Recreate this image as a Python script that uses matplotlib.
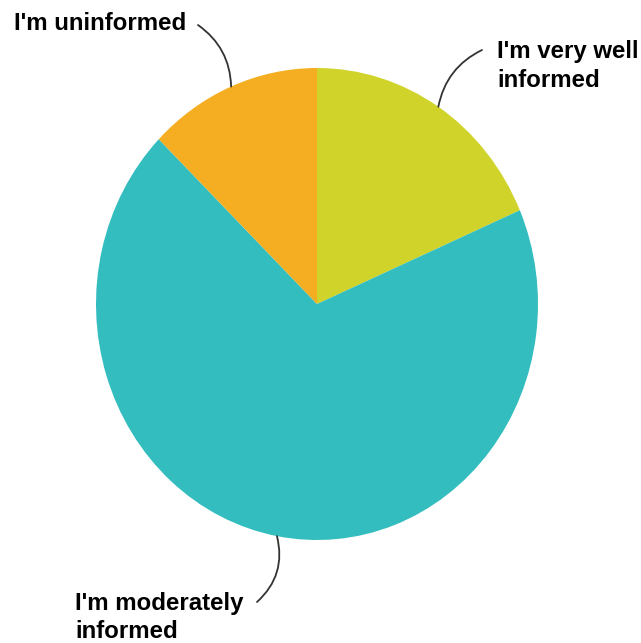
import numpy as np
import matplotlib
matplotlib.use("Agg")
import matplotlib.pyplot as plt

labels = ["I'm very well\ninformed", "I'm moderately\ninformed", "I'm uninformed"]
values = [18.5, 68.8, 12.7]
colors = ["#D0D42A", "#33BDBF", "#F5AE22"]

W, H = 641, 643
fig = plt.figure(figsize=(W / 100, H / 100), dpi=100)
# pie spans x 96..538, y 68..540 in pixels
cx, cy, rx, ry = 317, 304, 221, 236
ax = fig.add_axes([(cx - rx) / W, (H - (cy + ry)) / H, 2 * rx / W, 2 * ry / H])
wedges, _ = ax.pie(values, colors=colors, startangle=90, counterclock=False,
                   wedgeprops=dict(linewidth=0))
ax.set_aspect('auto')
ax.set_xlim(-1, 1)
ax.set_ylim(-1, 1)
ax.axis('off')

def px2d(px, py):
    return ((px - cx) / rx, (cy - py) / ry)

font = dict(family=['Liberation Sans', 'DejaVu Sans'], weight='bold', fontsize=17.3, color='#000000')

# label layout: (text anchor px, ha, va, leader start px, rad, linespacing)
layout = [
    ((497, 40), 'left', 'top', (482, 50), 0.25, 1.36),
    ((75, 592), 'left', 'top', (257, 602), 0.3, 1.3),
    ((186, 24), 'right', 'center', (198, 25), -0.25, 1.2),
]

for w, lab, (tp, ha, va, lp, rad, ls) in zip(wedges, labels, layout):
    mid = np.deg2rad((w.theta1 + w.theta2) / 2)
    edge = (np.cos(mid), np.sin(mid))
    ax.text(*px2d(*tp), lab, ha=ha, va=va, linespacing=ls, **font)
    ax.annotate('', xy=edge, xytext=px2d(*lp),
                arrowprops=dict(arrowstyle='-', color='#333333', lw=1.3,
                                connectionstyle=f'arc3,rad={rad}',
                                shrinkA=0, shrinkB=0))

fig.savefig('out.png', dpi=100, facecolor='white')
